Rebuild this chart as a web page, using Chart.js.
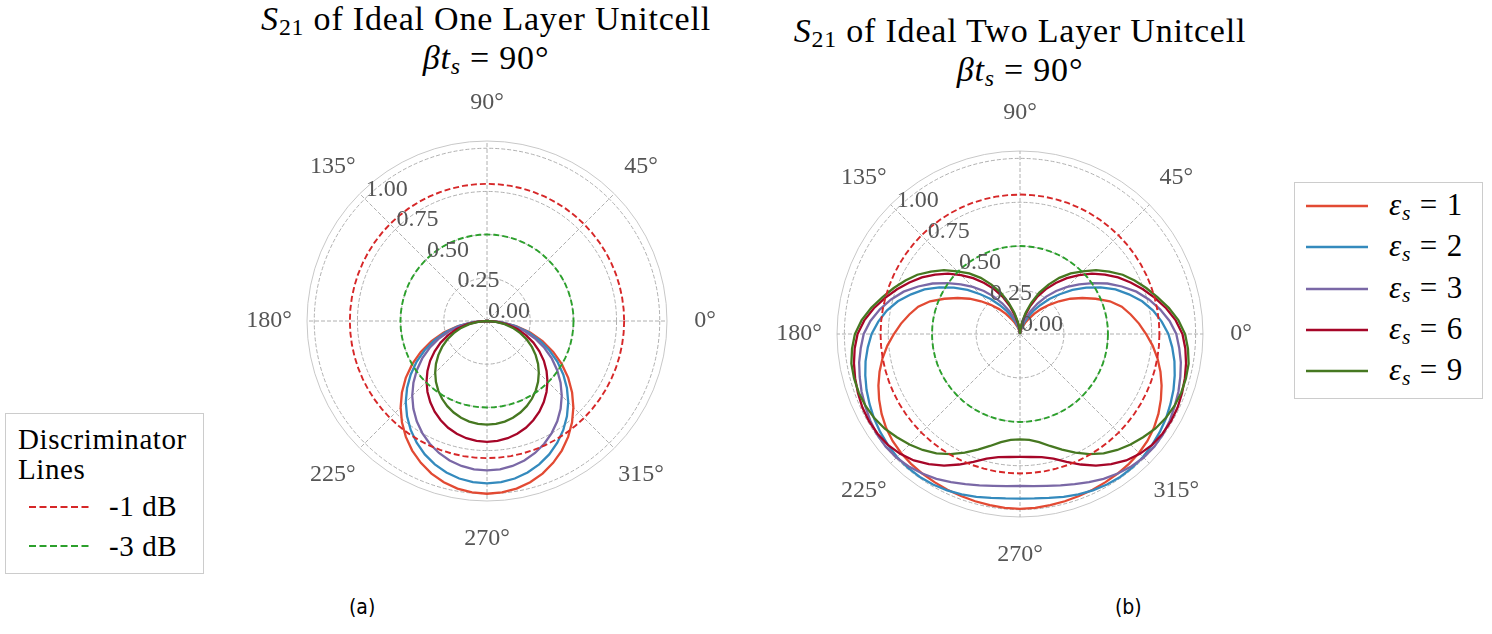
<!DOCTYPE html>
<html>
<head>
<meta charset="utf-8">
<script src="https://cdn.jsdelivr.net/npm/chart.js@4.4.0/dist/chart.umd.min.js"></script>
<style>
  html, body { margin: 0; padding: 0; background: #ffffff; }
  body { width: 1492px; height: 634px; position: relative; overflow: hidden; font-family: "Liberation Serif", "Times New Roman", serif; color: #000; }
  .abs { position: absolute; white-space: nowrap; }
  canvas { position: absolute; }
  .title { font-size: 34px; line-height: 34px; text-align: center; letter-spacing: 0.8px; }
  .sub { font-size: 0.7em; position: relative; top: 0.22em; }
  .legend { position: absolute; border: 1px solid #cccccc; background: #ffffff; box-sizing: border-box; }
  .ltxt { position: absolute; font-size: 29px; line-height: 29px; white-space: nowrap; letter-spacing: 0.6px; }
  .ltxtb { position: absolute; font-size: 31px; line-height: 31px; white-space: nowrap; letter-spacing: 0.8px; }
  .cap { position: absolute; font-family: "DejaVu Sans Condensed", "Noto Sans", sans-serif; font-size: 21px; line-height: 21px; }
</style>
</head>
<body>

<!-- Titles -->
<div class="abs title" style="left:236px; width:500px; top:2px;"><i>S</i><span class="sub">21</span> of Ideal One Layer Unitcell</div>
<div class="abs title" style="left:236px; width:500px; top:41px;"><i>βt</i><span class="sub"><i>s</i></span> = 90°</div>
<div class="abs title" style="left:770px; width:500px; top:14px;"><i>S</i><span class="sub">21</span> of Ideal Two Layer Unitcell</div>
<div class="abs title" style="left:770px; width:500px; top:53px;"><i>βt</i><span class="sub"><i>s</i></span> = 90°</div>

<canvas id="chartA" width="500" height="500" style="left:237px; top:71px;"></canvas>
<canvas id="chartB" width="506" height="506" style="left:767px; top:81px;"></canvas>

<!-- Legend (a) -->
<div class="legend" style="left:5px; top:413px; width:199px; height:161px;">
  <div class="ltxt" style="left:12px; top:11px;">Discriminator</div>
  <div class="ltxt" style="left:12px; top:41px;">Lines</div>
  <svg class="abs" style="left:22px; top:90px;" width="62" height="6"><line x1="1" y1="3" x2="61" y2="3" stroke="#d62728" stroke-width="2" stroke-dasharray="7,3.5"/></svg>
  <div class="ltxt" style="left:103px; top:78px;">-1 dB</div>
  <svg class="abs" style="left:22px; top:129px;" width="62" height="6"><line x1="1" y1="3" x2="61" y2="3" stroke="#2ca02c" stroke-width="2" stroke-dasharray="7,3.5"/></svg>
  <div class="ltxt" style="left:103px; top:118px;">-3 dB</div>
</div>

<!-- Legend (b) -->
<div class="legend" id="legendB" style="left:1294px; top:182px; width:189px; height:217px;"></div>

<div class="cap" style="left:349px; top:597px;">(a)</div>
<div class="cap" style="left:1115px; top:597px;">(b)</div>

<script>
// ---------------- DATA ----------------
// polar angle of every sample, degrees (counter-clockwise from 0°)
const thetaDeg = [0,5,10,15,20,25,30,35,40,45,50,55,60,65,70,75,80,85,
  90,95,100,105,110,115,120,125,130,135,140,145,150,155,160,165,170,175,
  180,185,190,195,200,205,210,215,220,225,230,235,240,245,250,255,260,265,
  270,275,280,285,290,295,300,305,310,315,320,325,330,335,340,345,350,355];

const seriesNames = ['ε_s = 1', 'ε_s = 2', 'ε_s = 3', 'ε_s = 6', 'ε_s = 9'];
const seriesColors = ['#E24A33', '#348ABD', '#7A68A6', '#A60628', '#467821'];

// (a) one layer unit cell |S21|, per thetaDeg
const oneLayerEps1 = [0,0,0,0,0,0,0,0,0,0,0,0,0,0,0,0,0,0,0,0,0,0,0,0,0,0,0,0,0,0,0,0,0,0,0,0,0,
  0.087,0.174,0.259,0.342,0.423,0.500,0.574,0.643,0.707,0.766,0.819,0.866,0.906,0.940,0.966,0.985,0.996,
  1.000,0.996,0.985,0.966,0.940,0.906,0.866,0.819,0.766,0.707,0.643,0.574,0.500,0.423,0.342,0.259,0.174,0.087];
const oneLayerEps2 = [0,0,0,0,0,0,0,0,0,0,0,0,0,0,0,0,0,0,0,0,0,0,0,0,0,0,0,0,0,0,0,0,0,0,0,0,0,
  0.082,0.163,0.243,0.321,0.397,0.470,0.539,0.604,0.665,0.720,0.770,0.814,0.852,0.883,0.908,0.926,0.936,
  0.940,0.936,0.926,0.908,0.883,0.852,0.814,0.770,0.720,0.665,0.604,0.539,0.470,0.397,0.321,0.243,0.163,0.082];
const oneLayerEps3 = [0,0,0,0,0,0,0,0,0,0,0,0,0,0,0,0,0,0,0,0,0,0,0,0,0,0,0,0,0,0,0,0,0,0,0,0,0,
  0.075,0.150,0.224,0.296,0.366,0.433,0.496,0.556,0.612,0.663,0.709,0.749,0.784,0.813,0.836,0.852,0.862,
  0.865,0.862,0.852,0.836,0.813,0.784,0.749,0.709,0.663,0.612,0.556,0.496,0.433,0.366,0.296,0.224,0.150,0.075];
const oneLayerEps6 = [0,0,0,0,0,0,0,0,0,0,0,0,0,0,0,0,0,0,0,0,0,0,0,0,0,0,0,0,0,0,0,0,0,0,0,0,0,
  0.061,0.122,0.181,0.239,0.296,0.350,0.402,0.450,0.495,0.536,0.573,0.606,0.634,0.658,0.676,0.689,0.697,
  0.700,0.697,0.689,0.676,0.658,0.634,0.606,0.573,0.536,0.495,0.450,0.402,0.350,0.296,0.239,0.181,0.122,0.061];
const oneLayerEps9 = [0,0,0,0,0,0,0,0,0,0,0,0,0,0,0,0,0,0,0,0,0,0,0,0,0,0,0,0,0,0,0,0,0,0,0,0,0,
  0.052,0.104,0.155,0.205,0.254,0.300,0.344,0.386,0.424,0.460,0.492,0.520,0.544,0.564,0.580,0.591,0.598,
  0.600,0.598,0.591,0.580,0.564,0.544,0.520,0.492,0.460,0.424,0.386,0.344,0.300,0.254,0.205,0.155,0.104,0.052];

// (b) two layer unit cell |S21|, per thetaDeg
const twoLayerEps1 = [0.718,0.68,0.64,0.60,0.545,0.475,0.41,0.35,0.29,0.235,0.185,0.14,0.10,0.07,0.045,0.025,0.012,0.004,
  0,0.004,0.012,0.025,0.045,0.07,0.10,0.14,0.185,0.235,0.29,0.35,0.41,0.475,0.545,0.60,0.64,0.68,
  0.718,0.758,0.795,0.828,0.858,0.885,0.91,0.931,0.947,0.958,0.965,0.970,0.974,0.978,0.982,0.986,0.99,0.994,
  0.996,0.994,0.99,0.986,0.982,0.978,0.974,0.970,0.965,0.958,0.947,0.931,0.91,0.885,0.858,0.828,0.795,0.758];
const twoLayerEps2 = [0.845,0.81,0.77,0.72,0.66,0.60,0.53,0.46,0.39,0.32,0.26,0.20,0.15,0.105,0.07,0.04,0.02,0.006,
  0,0.006,0.02,0.04,0.07,0.105,0.15,0.20,0.26,0.32,0.39,0.46,0.53,0.60,0.66,0.72,0.77,0.81,
  0.845,0.87,0.893,0.912,0.93,0.945,0.96,0.972,0.982,0.99,0.994,0.994,0.99,0.982,0.972,0.96,0.948,0.94,
  0.937,0.94,0.948,0.96,0.972,0.982,0.99,0.994,0.994,0.99,0.982,0.972,0.96,0.945,0.93,0.912,0.893,0.87];
const twoLayerEps3 = [0.89,0.855,0.81,0.76,0.705,0.64,0.575,0.505,0.44,0.38,0.32,0.26,0.20,0.145,0.10,0.06,0.03,0.01,
  0,0.01,0.03,0.06,0.10,0.145,0.20,0.26,0.32,0.38,0.44,0.505,0.575,0.64,0.705,0.76,0.81,0.855,
  0.89,0.91,0.93,0.945,0.96,0.972,0.985,0.995,0.998,0.995,0.985,0.97,0.952,0.93,0.91,0.892,0.878,0.87,
  0.865,0.87,0.878,0.892,0.91,0.93,0.952,0.97,0.985,0.995,0.998,0.995,0.985,0.972,0.96,0.945,0.93,0.91];
const twoLayerEps6 = [0.925,0.89,0.845,0.795,0.745,0.695,0.645,0.59,0.535,0.475,0.415,0.355,0.295,0.235,0.17,0.11,0.06,0.025,
  0,0.025,0.06,0.11,0.17,0.235,0.295,0.355,0.415,0.475,0.535,0.59,0.645,0.695,0.745,0.795,0.845,0.89,
  0.925,0.945,0.96,0.972,0.982,0.99,0.993,0.99,0.982,0.965,0.94,0.905,0.865,0.82,0.775,0.735,0.712,0.703,
  0.70,0.703,0.712,0.735,0.775,0.82,0.865,0.905,0.94,0.965,0.982,0.99,0.993,0.99,0.982,0.972,0.96,0.945];
const twoLayerEps9 = [0.94,0.905,0.86,0.81,0.765,0.72,0.675,0.62,0.565,0.505,0.45,0.39,0.325,0.26,0.19,0.125,0.07,0.03,
  0,0.03,0.07,0.125,0.19,0.26,0.325,0.39,0.45,0.505,0.565,0.62,0.675,0.72,0.765,0.81,0.86,0.905,
  0.94,0.96,0.975,0.978,0.977,0.97,0.958,0.94,0.915,0.89,0.862,0.83,0.79,0.745,0.70,0.66,0.625,0.605,
  0.60,0.605,0.625,0.66,0.70,0.745,0.79,0.83,0.862,0.89,0.915,0.94,0.958,0.97,0.977,0.978,0.975,0.96];

// discriminator levels (-1 dB and -3 dB)
const discriminatorNames = ['-1 dB', '-3 dB'];
const discriminatorLevels = [0.794, 0.501];
const discriminatorColors = ['#d62728', '#2ca02c'];

// axis ticks
const radialTickValues = [0, 0.25, 0.5, 0.75, 1.0];
const radialTickLabels = ['0.00', '0.25', '0.50', '0.75', '1.00'];
const radialMax = 1.042;
const angleTickDegrees = [0, 45, 90, 135, 180, 225, 270, 315];
const angleTickLabels = ['0°', '45°', '90°', '135°', '180°', '225°', '270°', '315°'];
const radialLabelAngle = 135;

// ---------------- BUILD ----------------
const N = thetaDeg.length;
// radar runs clockwise from its start angle: reorder so that index i sits at -5*i degrees
const radarTheta = thetaDeg.map((_, i) => thetaDeg[(N - i) % N]);
const toRadar = arr => arr.map((_, i) => arr[(N - i) % N]);

const GRID = '#b0b0b0';
const SPINE = '#c8c8c8';
const TICKTXT = '#555555';
const FONT = '"Liberation Serif", "Times New Roman", serif';

const polarDecor = {
  id: 'polarDecor',
  afterDraw(chart) {
    const s = chart.scales.r;
    const ctx = chart.ctx;
    ctx.save();
    ctx.fillStyle = TICKTXT;
    ctx.font = '24px ' + FONT;
    ctx.textAlign = 'center';
    ctx.textBaseline = 'middle';
    angleTickDegrees.forEach((deg, k) => {
      const idx = radarTheta.indexOf(deg);
      const p = s.getPointPosition(idx, s.drawingArea + 38);
      ctx.fillText(angleTickLabels[k], p.x, p.y);
    });
    ctx.textAlign = 'left';
    ctx.textBaseline = 'alphabetic';
    const idxR = radarTheta.indexOf(radialLabelAngle);
    radialTickValues.forEach((v, k) => {
      const p = s.getPointPositionForValue(idxR, v);
      ctx.fillText(radialTickLabels[k], p.x + 1, p.y - 3);
    });
    ctx.restore();
  }
};

function discDatasets() {
  return discriminatorLevels.map((lvl, k) => ({
    label: discriminatorNames[k],
    data: thetaDeg.map(() => lvl),
    borderColor: discriminatorColors[k],
    borderWidth: 1.9,
    borderDash: [6, 3],
    fill: false, pointRadius: 0, order: k
  }));
}

function makeChart(id, curves) {
  const datasets = curves.map((arr, k) => ({
    label: seriesNames[k],
    data: toRadar(arr),
    borderColor: seriesColors[k],
    borderWidth: 2.3,
    fill: false, pointRadius: 0,
    order: 10 - k
  })).concat(discDatasets());
  const isSpine = ctx => ctx.tick && ctx.tick.value > 1.001;
  return new Chart(document.getElementById(id), {
    type: 'radar',
    data: { labels: radarTheta.map(String), datasets },
    options: {
      responsive: false, animation: false, devicePixelRatio: 1,
      layout: { padding: 70 },
      plugins: { legend: { display: false }, tooltip: { enabled: false } },
      elements: { point: { radius: 0, hoverRadius: 0 }, line: { tension: 0 } },
      scales: {
        r: {
          min: 0, max: radialMax, startAngle: 90,
          afterBuildTicks: scale => { scale.ticks = radialTickValues.concat([radialMax]).map(v => ({ value: v })); },
          ticks: { display: false },
          pointLabels: { display: false },
          grid: {
            circular: true,
            color: ctx => isSpine(ctx) ? SPINE : GRID,
            lineWidth: 1,
            borderDash: ctx => isSpine(ctx) ? [] : [4, 2]
          },
          border: { dash: ctx => isSpine(ctx) ? [] : [4, 2] },
          angleLines: {
            display: true,
            color: ctx => (radarTheta[ctx.index] % 45 === 0) ? GRID : 'rgba(0,0,0,0)',
            lineWidth: ctx => (radarTheta[ctx.index] % 45 === 0) ? 1 : 0,
            borderDash: [4, 2]
          }
        }
      }
    },
    plugins: [polarDecor]
  });
}

makeChart('chartA', [oneLayerEps1, oneLayerEps2, oneLayerEps3, oneLayerEps6, oneLayerEps9]);
makeChart('chartB', [twoLayerEps1, twoLayerEps2, twoLayerEps3, twoLayerEps6, twoLayerEps9]);

// legend (b) built from series names/colors
const lg = document.getElementById('legendB');
seriesNames.forEach((name, k) => {
  const y = 23 + k * 41.3;
  const sv = document.createElementNS('http://www.w3.org/2000/svg', 'svg');
  sv.setAttribute('width', '64'); sv.setAttribute('height', '6');
  sv.setAttribute('class', 'abs');
  sv.style.left = '10px'; sv.style.top = (y - 3) + 'px';
  sv.innerHTML = '<line x1="1" y1="3" x2="63" y2="3" stroke="' + seriesColors[k] + '" stroke-width="2.3"/>';
  lg.appendChild(sv);
  const t = document.createElement('div');
  t.className = 'ltxtb';
  t.style.left = '94px'; t.style.top = (y - 17) + 'px';
  const val = name.split('= ')[1];
  t.innerHTML = '<i>ε</i><span class="sub"><i>s</i></span> = ' + val;
  lg.appendChild(t);
});
</script>
</body>
</html>
